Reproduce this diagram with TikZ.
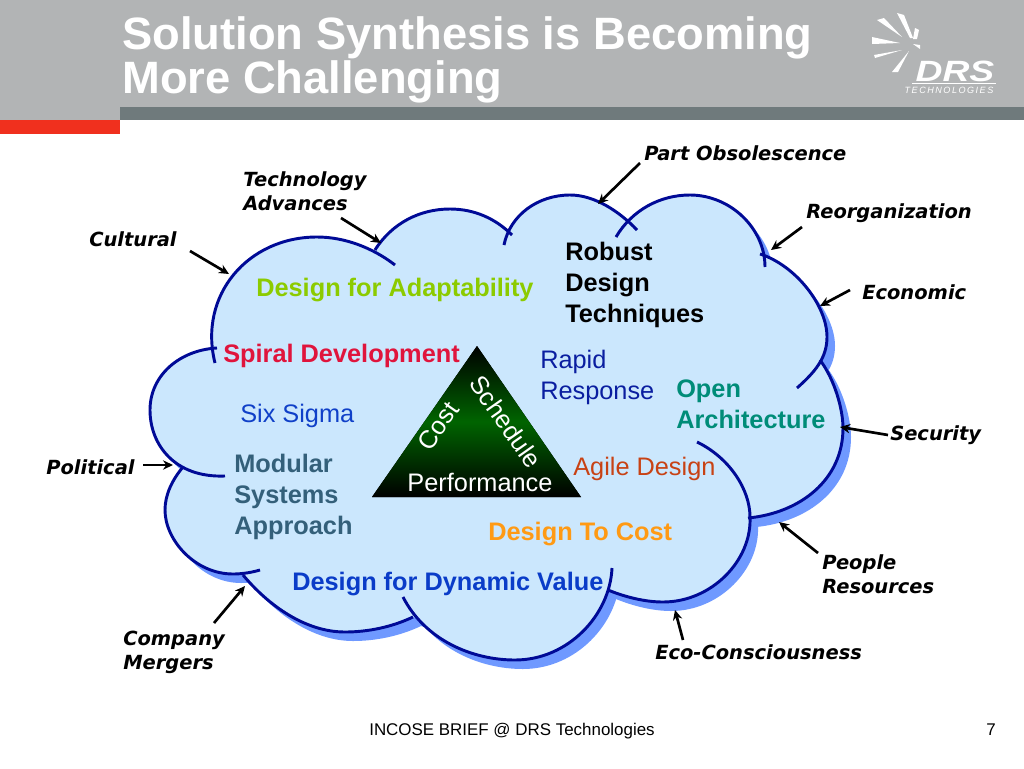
\documentclass[tikz,border=0pt]{standalone}
\usepackage{fontspec}
\setmainfont{Liberation Sans}
\newfontfamily\blackfont{DejaVu Sans}
\usetikzlibrary{arrows.meta}
\definecolor{headgray}{HTML}{B2B4B5}
\definecolor{bandgray}{HTML}{6F7A7C}
\definecolor{redblock}{HTML}{F0301E}
\definecolor{cloudfill}{HTML}{CBE7FD}
\definecolor{cloudshadow}{HTML}{6F99FF}
\definecolor{cloudline}{HTML}{000A96}
\definecolor{adaptgreen}{HTML}{8CCB00}
\definecolor{spiralred}{HTML}{E0143C}
\definecolor{sigmablue}{HTML}{1040C8}
\definecolor{modslate}{HTML}{34607A}
\definecolor{rapidblue}{HTML}{0A1EA0}
\definecolor{opengreen}{HTML}{008C78}
\definecolor{agilered}{HTML}{C84214}
\definecolor{costorange}{HTML}{FF9A14}
\definecolor{dynblue}{HTML}{0A3CC8}
\definecolor{triggreen}{HTML}{006400}
\newcommand{\lobeA}{(215,363) .. controls (198,295) and (248,237) .. (317,237) .. controls (345,237) and (373,248) .. (395,265)}
\newcommand{\lobeB}{(375,250) .. controls (392,223) and (420,209) .. (450,209) .. controls (475,209) and (496,219) .. (512,235)}
\newcommand{\lobeC}{(504,245) .. controls (510,215) and (538,195) .. (570,195) .. controls (595,195) and (620,212) .. (637,230)}
\newcommand{\lobeD}{(616,237) .. controls (632,210) and (660,195) .. (690,195) .. controls (730,195) and (765,228) .. (765,267)}
\newcommand{\lobeE}{(760,254) .. controls (795,265) and (827,305) .. (827,337) .. controls (827,358) and (815,372) .. (797,388)}
\newcommand{\lobeF}{(820,360) .. controls (835,380) and (843,410) .. (843,428) .. controls (843,480) and (800,513) .. (748,518)}
\newcommand{\lobeG}{(697,442) .. controls (730,458) and (750,490) .. (750,517) .. controls (752,560) and (712,602) .. (663,602) .. controls (645,602) and (625,597) .. (608,590)}
\newcommand{\lobeH}{(612,568) .. controls (610,615) and (568,660) .. (515,660) .. controls (472,660) and (425,640) .. (403,597)}
\newcommand{\lobeI}{(413,617) .. controls (392,627) and (368,632) .. (345,632) .. controls (305,632) and (268,605) .. (243,575)}
\newcommand{\lobeJ}{(260,570) .. controls (250,573) and (240,574) .. (233,574) .. controls (195,574) and (165,540) .. (165,510) .. controls (165,495) and (172,480) .. (183,467)}
\newcommand{\lobeK}{(225,476) .. controls (175,478) and (150,445) .. (150,410) .. controls (150,375) and (180,350) .. (217,348)}
\newcommand{\cloudcore}{(216,349) -- (260,290) -- (375,251) -- (400,235) -- (450,225) -- (508,232) -- (572,212) -- (628,222) -- (690,212) -- (762,255) -- (800,310) -- (820,360) -- (825,430) -- (750,517) -- (700,570) -- (608,590) -- (500,640) -- (413,617) -- (330,615) -- (244,575) -- (185,520) -- (183,467) -- (165,410) -- cycle}
\tikzset{
  lobeline/.style={draw=cloudline, line width=2.2pt},
  tag/.style={font=\blackfont\bfseries\itshape\fontsize{14.6}{18}\selectfont, inner sep=0pt, align=left, text=black, anchor=west},
  item/.style={font=\fontsize{19}{23.2}\selectfont, inner sep=0pt, align=left, anchor=west},
  bolditem/.style={item, font=\bfseries\fontsize{19}{23.2}\selectfont},
  pointer/.style={-{Stealth[length=7.5pt,width=7pt]}, line width=2pt, black},
}
\begin{document}
\begin{tikzpicture}[x=0.75pt, y=-0.75pt]
  \useasboundingbox (0,0) rectangle (1024,768);
  \fill[white] (0,0) rectangle (1024,768);

  % header
  \fill[headgray] (0,0) rectangle (1024,107);
  \fill[headgray] (0,107) rectangle (120,120);
  \fill[bandgray] (120,107) rectangle (1024,120);
  \fill[redblock] (0,120) rectangle (120,134);
  \node[font=\bfseries\fontsize{34}{33}\selectfont, text=white, inner sep=0pt, align=left, anchor=north west] (title) at (122,16) {Solution Synthesis is Becoming\\More Challenging};

  % logo
  \fill[white] (897,13) -- (904,15) -- (913,38) -- (910,38) -- cycle;
  \fill[white] (877,20) -- (884,18) -- (902,37) -- cycle;
  \fill[white] (872,37) -- (900,43) -- (872,44) -- cycle;
  \fill[white] (875,58) -- (874,55) -- (902,50) -- cycle;
  \fill[white] (892,72) -- (898,72) -- (909,51) -- cycle;
  \fill[white] (915,28) -- (919,30) -- (917,39) -- (913,39) -- cycle;
  \fill[white] (913,44) -- (920,45) -- (920,49) -- cycle;
  \node[font=\bfseries\itshape\fontsize{22}{22}\selectfont, text=white, inner sep=0pt, xscale=1.27] (drs) at (955,71) {DRS};
  \draw[white, line width=.5pt] (912,83) -- (996,83);
  \node[font=\itshape\fontsize{6.8}{8}\selectfont, text=white, inner sep=0pt] (tech) at (949,90) {T\,E\,C\,H\,N\,O\,L\,O\,G\,I\,E\,S};

  % cloud
  \foreach \lobe in {\lobeA,\lobeB,\lobeC,\lobeD,\lobeE,\lobeF,\lobeG,\lobeH,\lobeI,\lobeJ,\lobeK}
    \fill[cloudshadow, shift={(8,9)}] \lobe -- cycle;
  \fill[cloudshadow, shift={(8,9)}] \cloudcore;
  \foreach \lobe in {\lobeA,\lobeB,\lobeC,\lobeD,\lobeE,\lobeF,\lobeG,\lobeH,\lobeI,\lobeJ,\lobeK}
    \fill[cloudfill] \lobe -- cycle;
  \fill[cloudfill] \cloudcore;
  \foreach \lobe in {\lobeA,\lobeB,\lobeC,\lobeD,\lobeE,\lobeF,\lobeG,\lobeH,\lobeI,\lobeJ,\lobeK}
    \draw[lobeline] \lobe;

  % triangle
  \fill[top color=black, bottom color=black, middle color=triggreen] (477,346) -- (581,497) -- (372,497) -- cycle;
  \node[item, anchor=center, text=white, rotate=55] (cost) at (438,426) {Cost};
  \node[item, anchor=center, text=white, rotate=-55] (schedule) at (506,422) {Schedule};
  \node[item, anchor=center, text=white] (perf) at (480,482) {Performance};

  % approaches
  \node[bolditem, text=adaptgreen] (adapt) at (256,290) {Design for Adaptability};
  \node[bolditem, text=black] (robust) at (565,285) {Robust\\Design\\Techniques};
  \node[bolditem, text=spiralred] (spiral) at (223,356) {Spiral Development};
  \node[item, text=rapidblue] (rapid) at (540,377) {Rapid\\Response};
  \node[bolditem, text=opengreen] (open) at (676,404) {Open\\Architecture};
  \node[item, text=sigmablue] (sigma) at (240,416) {Six Sigma};
  \node[bolditem, text=modslate] (modular) at (234,497) {Modular\\Systems\\Approach};
  \node[item, text=agilered] (agile) at (573,469) {Agile Design};
  \node[bolditem, text=costorange] (tocost) at (488,534) {Design To Cost};
  \node[bolditem, text=dynblue] (dynamic) at (292,584) {Design for Dynamic Value};

  % outside tags
  \node[tag] (obsolete) at (644,153) {Part Obsolescence};
  \node[tag] (techadv) at (243,191) {Technology\\Advances};
  \node[tag] (reorg) at (806,213) {Reorganization};
  \node[tag] (cultural) at (89,239) {Cultural};
  \node[tag] (economic) at (862,292) {Economic};
  \node[tag] (security) at (890,435) {Security};
  \node[tag] (political) at (46,467) {Political};
  \node[tag] (people) at (822,574) {People\\Resources};
  \node[tag] (eco) at (655,652) {Eco-Consciousness};
  \node[tag] (company) at (123,652) {Company\\Mergers};

  \coordinate (hitobsolete) at (598,204);
  \coordinate (hittechadv) at (381,243);
  \coordinate (hitreorg) at (771,250);
  \coordinate (hitcultural) at (229,274);
  \coordinate (hiteconomic) at (820,306);
  \coordinate (hitsecurity) at (840,427);
  \coordinate (hitpolitical) at (173,465);
  \coordinate (hitpeople) at (779,522);
  \coordinate (hiteco) at (675,610);
  \coordinate (hitcompany) at (245,586);

  \draw[pointer] (obsolete.west) ++(-4,10) -- (hitobsolete);
  \draw[pointer] (techadv.west) ++(98,27) -- (hittechadv);
  \draw[pointer] (reorg.west) ++(-4,14) -- (hitreorg);
  \draw[pointer] (cultural.west) ++(101,12) -- (hitcultural);
  \draw[pointer] (economic.west) ++(-12,-2) -- (hiteconomic);
  \draw[pointer] (security.west) ++(-2,0) -- (hitsecurity);
  \draw[pointer] (political.west) ++(97,-2) -- (hitpolitical);
  \draw[pointer] (people.west) ++(-4,-21) -- (hitpeople);
  \draw[pointer] (eco.west) ++(28,-12) -- (hiteco);
  \draw[pointer] (company.west) ++(91,-29) -- (hitcompany);

  % footer
  \node[font=\fontsize{12.7}{14}\selectfont, inner sep=0pt] (footer) at (512,731) {INCOSE BRIEF @ DRS Technologies};
  \node[font=\fontsize{12.7}{14}\selectfont, inner sep=0pt] (pagenum) at (991,730) {7};
\end{tikzpicture}
\end{document}
